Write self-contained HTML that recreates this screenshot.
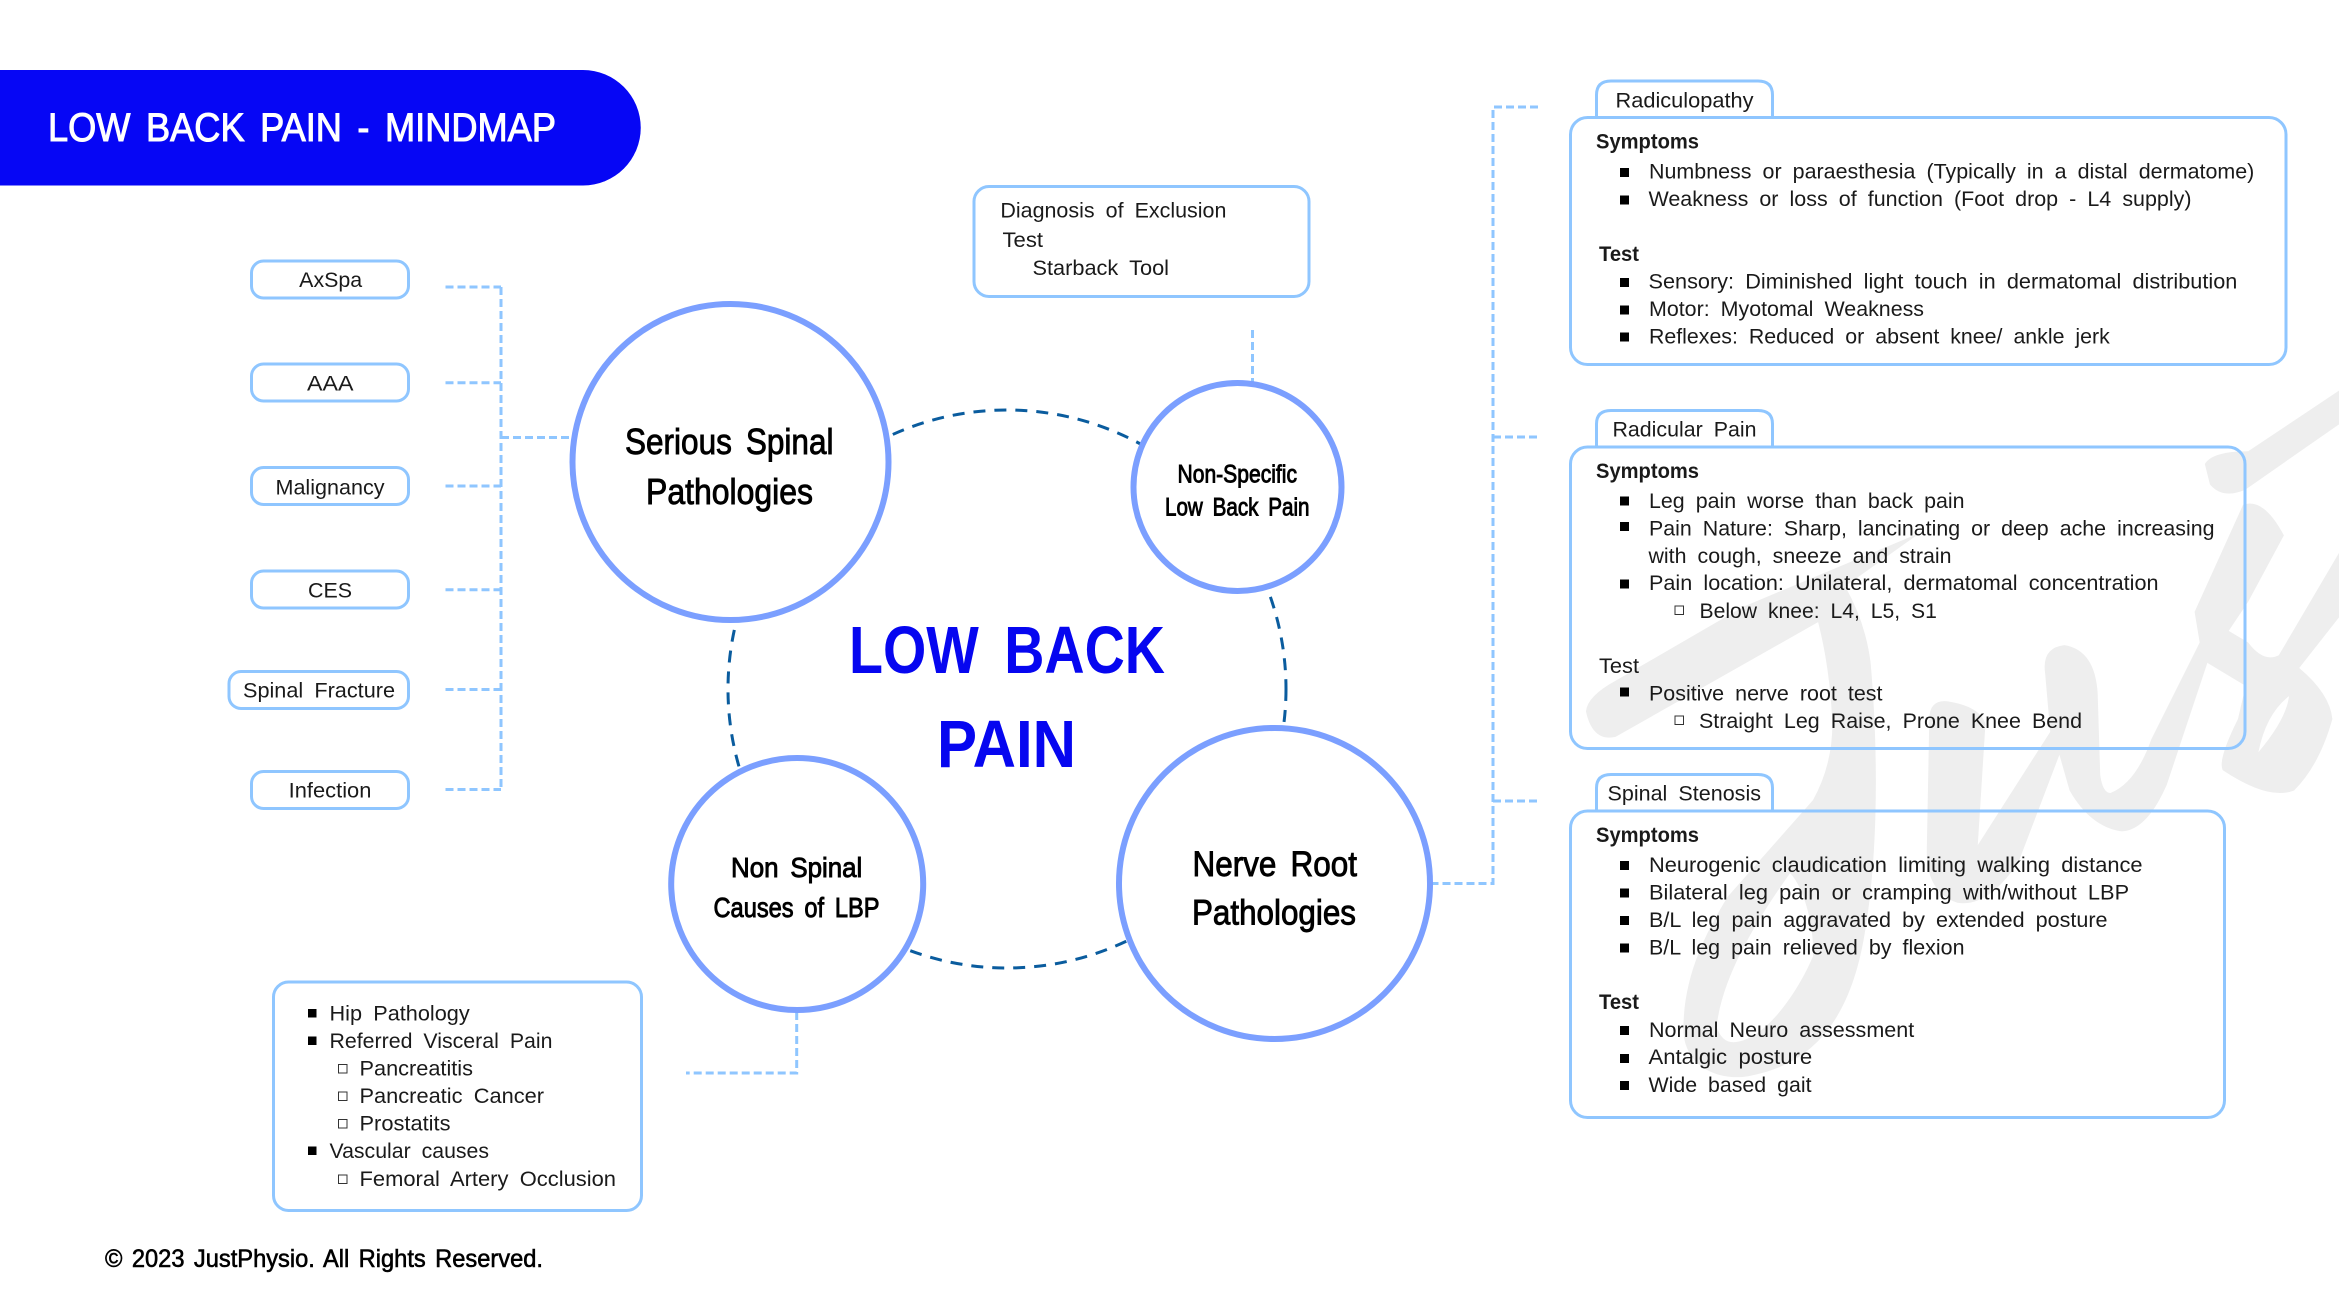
<!DOCTYPE html>
<html><head><meta charset="utf-8"><title>Low Back Pain - Mindmap</title>
<style>
html,body{margin:0;padding:0;background:#fff;width:2339px;height:1316px;overflow:hidden}
svg{display:block}
text{font-family:"Liberation Sans",sans-serif;font-size:21px;fill:#1a1a1a;word-spacing:5px}
.h{font-weight:bold;stroke:none}
.m{stroke:#000;stroke-width:.9px;fill:#000}
.box{fill:none;stroke:#8fc6ff;stroke-width:3}
.pill{fill:#fff;stroke:#8fc6ff;stroke-width:3}
.c{fill:#fff;stroke:#7b9fff;stroke-width:6}
.d{fill:none;stroke:#8fc6ff;stroke-width:3;stroke-dasharray:8 4}
.bk{fill:#000}
.ho{fill:#fff;stroke:#333;stroke-width:1}
</style></head><body>
<svg width="2339" height="1316" viewBox="0 0 2339 1316" xmlns="http://www.w3.org/2000/svg">
<rect width="2339" height="1316" fill="#fff"/>
<!-- watermark -->
<g transform="translate(1539,316) scale(.5102)" fill="#eeeeee" fill-rule="evenodd">
<path d="M92,775 Q95,745 150,715 L400,570 L747,425 L600,530 Q640,600 650,680 C665,850 665,1050 640,1200 C610,1400 520,1470 410,1490 C350,1500 285,1470 283,1400 C283,1300 320,1220 370,1138 L537,949 Q575,880 575,800 C572,720 560,650 547,600 L150,825 Q105,835 92,775 Z M492,1092 C430,1180 360,1290 348,1393 Q360,1430 392,1422 C450,1410 510,1320 537,1255 C540,1200 520,1120 492,1092 Z"/>
<path d="M765,790 Q765,752 800,755 Q865,765 875,800 L860,1037 L1002,815 L992,700 Q985,650 1030,645 Q1090,655 1095,740 L1100,900 Q1105,935 1120,935 Q1170,915 1200,830 L1295,640 L1285,580 L1380,370 Q1420,355 1460,430 L1390,560 L1310,680 L1230,920 Q1190,1010 1140,1010 Q1080,1000 1040,930 L1020,860 L940,1070 Q880,1160 820,1150 Q760,1130 760,1050 Z"/>
<path d="M1305,290 Q1320,265 1390,265 L1600,125 L1600,190 L1385,340 Q1340,360 1315,330 Z"/>
<path d="M1390,640 Q1420,680 1450,665 L1600,410 L1600,550 L1490,690 Q1550,740 1555,790 Q1530,880 1480,930 Q1430,950 1340,890 Q1330,870 1370,790 L1385,725 L1310,680 L1340,610 Z M1410,855 Q1425,780 1470,745 Q1465,790 1410,855 Z"/>
</g>
<!-- title -->
<path d="M0,70 H583 A57.750,57.750 0 0 1 583,185.500 H0 Z" fill="#0606f5"/>
<text x="48" y="141" textLength="508" lengthAdjust="spacingAndGlyphs" style="font-size:40px;fill:#fff;stroke:#fff;stroke-width:1px;word-spacing:6px">LOW BACK PAIN - MINDMAP</text>
<!-- central dashed -->
<circle cx="1007" cy="689" r="279" fill="none" stroke="#0a5c9e" stroke-width="3" stroke-dasharray="12 9"/>
<!-- connectors -->
<path class="d" d="M445.500,287 H501"/>
<path class="d" d="M445.500,382.700 H501"/>
<path class="d" d="M445.500,486 H501"/>
<path class="d" d="M445.500,589.700 H501"/>
<path class="d" d="M445.500,689.500 H501"/>
<path class="d" d="M445.500,789.500 H501"/>
<path class="d" d="M501,287 V789.500"/>
<path class="d" d="M501,437.500 H572"/>
<path class="d" d="M1252.500,330 V382"/>
<path class="d" d="M1538,107 H1493 V883.500 H1432"/>
<path class="d" d="M1493,437 H1538"/>
<path class="d" d="M1493,801 H1538"/>
<path class="d" d="M796.700,1012 V1073 H686"/>
<!-- left pills -->
<rect class="pill" x="251.500" y="261" width="157" height="37" rx="12"/>
<rect class="pill" x="251.500" y="364" width="157" height="37" rx="12"/>
<rect class="pill" x="251.500" y="467.500" width="157" height="37" rx="12"/>
<rect class="pill" x="251.500" y="571" width="157" height="37" rx="12"/>
<rect class="pill" x="229" y="671.500" width="179.500" height="37" rx="12"/>
<rect class="pill" x="251.500" y="771.500" width="157" height="37" rx="12"/>
<text x="299.200" y="287" textLength="63" lengthAdjust="spacingAndGlyphs">AxSpa</text>
<text x="307" y="390.500" textLength="46.500" lengthAdjust="spacingAndGlyphs">AAA</text>
<text x="275.500" y="494.700" textLength="109" lengthAdjust="spacingAndGlyphs">Malignancy</text>
<text x="308" y="597.400" textLength="44" lengthAdjust="spacingAndGlyphs">CES</text>
<text x="243" y="697.500" textLength="152" lengthAdjust="spacingAndGlyphs">Spinal Fracture</text>
<text x="288.700" y="797.600" textLength="82.700" lengthAdjust="spacingAndGlyphs">Infection</text>
<!-- circles -->
<circle class="c" cx="730.500" cy="462" r="158"/>
<circle class="c" cx="1237.500" cy="487" r="104"/>
<circle class="c" cx="1274.500" cy="883.500" r="155.500"/>
<circle class="c" cx="797.200" cy="884" r="126"/>
<text class="m" x="625" y="454" textLength="208.500" lengthAdjust="spacingAndGlyphs" style="font-size:36px;word-spacing:6px">Serious Spinal</text>
<text class="m" x="646" y="504" textLength="167" lengthAdjust="spacingAndGlyphs" style="font-size:36px">Pathologies</text>
<text class="m" x="1177.500" y="482.300" textLength="119.500" lengthAdjust="spacingAndGlyphs" style="font-size:25px">Non-Specific</text>
<text class="m" x="1165" y="515.500" textLength="144.500" lengthAdjust="spacingAndGlyphs" style="font-size:25px">Low Back Pain</text>
<text class="m" x="1192.500" y="876" textLength="164.500" lengthAdjust="spacingAndGlyphs" style="font-size:35px;word-spacing:6px">Nerve Root</text>
<text class="m" x="1192" y="924.600" textLength="164" lengthAdjust="spacingAndGlyphs" style="font-size:35px">Pathologies</text>
<text class="m" x="731" y="877" textLength="131.300" lengthAdjust="spacingAndGlyphs" style="font-size:28px">Non Spinal</text>
<text class="m" x="713.500" y="917" textLength="166" lengthAdjust="spacingAndGlyphs" style="font-size:28px">Causes of LBP</text>
<text class="h" x="849" y="673" textLength="316" lengthAdjust="spacingAndGlyphs" style="font-size:67px;fill:#0606f0;word-spacing:12px">LOW BACK</text>
<text class="h" x="937" y="767" textLength="139" lengthAdjust="spacingAndGlyphs" style="font-size:67px;fill:#0606f0">PAIN</text>
<!-- diagnosis box -->
<rect class="box" x="974" y="186.500" width="335" height="110" rx="15"/>
<text x="1000.400" y="217.600" textLength="226" lengthAdjust="spacingAndGlyphs">Diagnosis of Exclusion</text>
<text x="1002.500" y="247" textLength="40.500" lengthAdjust="spacingAndGlyphs">Test</text>
<text x="1032.500" y="275" textLength="136.500" lengthAdjust="spacingAndGlyphs">Starback Tool</text>
<!-- non spinal box -->
<rect class="box" x="273.500" y="982" width="368" height="228.500" rx="15"/>
<g class="bk"><rect x="308" y="1009" width="8.500" height="8.500"/><rect x="308" y="1036.500" width="8.500" height="8.500"/><rect x="308" y="1146.500" width="8.500" height="8.500"/></g>
<g class="ho"><rect x="338.500" y="1064.500" width="8.500" height="8.500"/><rect x="338.500" y="1092" width="8.500" height="8.500"/><rect x="338.500" y="1119.500" width="8.500" height="8.500"/><rect x="338.500" y="1175" width="8.500" height="8.500"/></g>
<text x="329.500" y="1020.700" textLength="140.200" lengthAdjust="spacingAndGlyphs">Hip Pathology</text>
<text x="329.500" y="1048" textLength="223" lengthAdjust="spacingAndGlyphs">Referred Visceral Pain</text>
<text x="359.500" y="1075.700" textLength="113.500" lengthAdjust="spacingAndGlyphs">Pancreatitis</text>
<text x="359.500" y="1103" textLength="184.500" lengthAdjust="spacingAndGlyphs">Pancreatic Cancer</text>
<text x="359.500" y="1130.700" textLength="91" lengthAdjust="spacingAndGlyphs">Prostatits</text>
<text x="329.500" y="1158" textLength="159.500" lengthAdjust="spacingAndGlyphs">Vascular causes</text>
<text x="359.500" y="1186" textLength="256.500" lengthAdjust="spacingAndGlyphs">Femoral Artery Occlusion</text>
<!-- footer -->
<text class="m" x="105" y="1267" textLength="438" lengthAdjust="spacingAndGlyphs" style="font-size:25px;stroke-width:.6px;word-spacing:3px">© 2023 JustPhysio. All Rights Reserved.</text>
<!-- Radiculopathy -->
<path class="box" d="M1596.500,117 V95 Q1596.500,81 1611,81 H1758 Q1772.500,81 1772.500,95 V117"/>
<rect class="box" x="1570.500" y="117.500" width="715.500" height="247" rx="17"/>
<text x="1615.500" y="107.300" textLength="138" lengthAdjust="spacingAndGlyphs">Radiculopathy</text>
<text class="h" x="1596" y="148.400" textLength="103" lengthAdjust="spacingAndGlyphs">Symptoms</text>
<text x="1649" y="178.300" textLength="605.300" lengthAdjust="spacingAndGlyphs">Numbness or paraesthesia (Typically in a distal dermatome)</text>
<text x="1648.500" y="206" textLength="543" lengthAdjust="spacingAndGlyphs">Weakness or loss of function (Foot drop - L4 supply)</text>
<text class="h" x="1599" y="261" textLength="40" lengthAdjust="spacingAndGlyphs">Test</text>
<text x="1648.500" y="288.600" textLength="588.800" lengthAdjust="spacingAndGlyphs">Sensory: Diminished light touch in dermatomal distribution</text>
<text x="1649" y="316" textLength="275" lengthAdjust="spacingAndGlyphs">Motor: Myotomal Weakness</text>
<text x="1649" y="343.500" textLength="460.800" lengthAdjust="spacingAndGlyphs">Reflexes: Reduced or absent knee/ ankle jerk</text>
<g class="bk"><rect x="1620" y="168" width="9" height="9"/><rect x="1620" y="195.500" width="9" height="9"/><rect x="1620" y="278" width="9" height="9"/><rect x="1620" y="305.500" width="9" height="9"/><rect x="1620" y="332.500" width="9" height="9"/></g>
<!-- Radicular Pain -->
<path class="box" d="M1596.500,446 V424 Q1596.500,410.500 1611,410.500 H1758 Q1772.500,410.500 1772.500,424 V446"/>
<rect class="box" x="1570.500" y="447" width="674.500" height="301.500" rx="17"/>
<text x="1612.500" y="436.300" textLength="144" lengthAdjust="spacingAndGlyphs">Radicular Pain</text>
<text class="h" x="1596" y="477.900" textLength="103" lengthAdjust="spacingAndGlyphs">Symptoms</text>
<text x="1649" y="507.800" textLength="315.500" lengthAdjust="spacingAndGlyphs">Leg pain worse than back pain</text>
<text x="1649" y="535.400" textLength="565.500" lengthAdjust="spacingAndGlyphs">Pain Nature: Sharp, lancinating or deep ache increasing</text>
<text x="1648.500" y="563" textLength="303" lengthAdjust="spacingAndGlyphs">with cough, sneeze and strain</text>
<text x="1649" y="590" textLength="509.500" lengthAdjust="spacingAndGlyphs">Pain location: Unilateral, dermatomal concentration</text>
<text x="1699.500" y="618" textLength="237.400" lengthAdjust="spacingAndGlyphs">Below knee: L4, L5, S1</text>
<text x="1599" y="673" textLength="40" lengthAdjust="spacingAndGlyphs">Test</text>
<text x="1649" y="700.600" textLength="233.500" lengthAdjust="spacingAndGlyphs">Positive nerve root test</text>
<text x="1699" y="727.900" textLength="383" lengthAdjust="spacingAndGlyphs">Straight Leg Raise, Prone Knee Bend</text>
<g class="bk"><rect x="1620" y="496.500" width="9" height="9"/><rect x="1620" y="522" width="9" height="9"/><rect x="1620" y="579.500" width="9" height="9"/><rect x="1620" y="687.500" width="9" height="9"/></g>
<g class="ho"><rect x="1675" y="606" width="8.500" height="8.500"/><rect x="1675" y="716" width="8.500" height="8.500"/></g>
<!-- Spinal Stenosis -->
<path class="box" d="M1596.500,810 V788 Q1596.500,774.500 1611,774.500 H1758 Q1772.500,774.500 1772.500,788 V810"/>
<rect class="box" x="1570.500" y="811" width="654" height="306.500" rx="17"/>
<text x="1607.500" y="800.500" textLength="153.500" lengthAdjust="spacingAndGlyphs">Spinal Stenosis</text>
<text class="h" x="1596" y="842" textLength="103" lengthAdjust="spacingAndGlyphs">Symptoms</text>
<text x="1649" y="872" textLength="493.500" lengthAdjust="spacingAndGlyphs">Neurogenic claudication limiting walking distance</text>
<text x="1649" y="899.700" textLength="480.100" lengthAdjust="spacingAndGlyphs">Bilateral leg pain or cramping with/without LBP</text>
<text x="1649" y="927" textLength="458.500" lengthAdjust="spacingAndGlyphs">B/L leg pain aggravated by extended posture</text>
<text x="1649" y="954.700" textLength="315.500" lengthAdjust="spacingAndGlyphs">B/L leg pain relieved by flexion</text>
<text class="h" x="1599" y="1009" textLength="40" lengthAdjust="spacingAndGlyphs">Test</text>
<text x="1649" y="1037" textLength="265.200" lengthAdjust="spacingAndGlyphs">Normal Neuro assessment</text>
<text x="1648.500" y="1064" textLength="163.700" lengthAdjust="spacingAndGlyphs">Antalgic posture</text>
<text x="1648.500" y="1092" textLength="163" lengthAdjust="spacingAndGlyphs">Wide based gait</text>
<g class="bk"><rect x="1620" y="861" width="9" height="9"/><rect x="1620" y="888.500" width="9" height="9"/><rect x="1620" y="916" width="9" height="9"/><rect x="1620" y="943.500" width="9" height="9"/><rect x="1620" y="1026" width="9" height="9"/><rect x="1620" y="1054" width="9" height="9"/><rect x="1620" y="1081" width="9" height="9"/></g>
</svg>
</body></html>
